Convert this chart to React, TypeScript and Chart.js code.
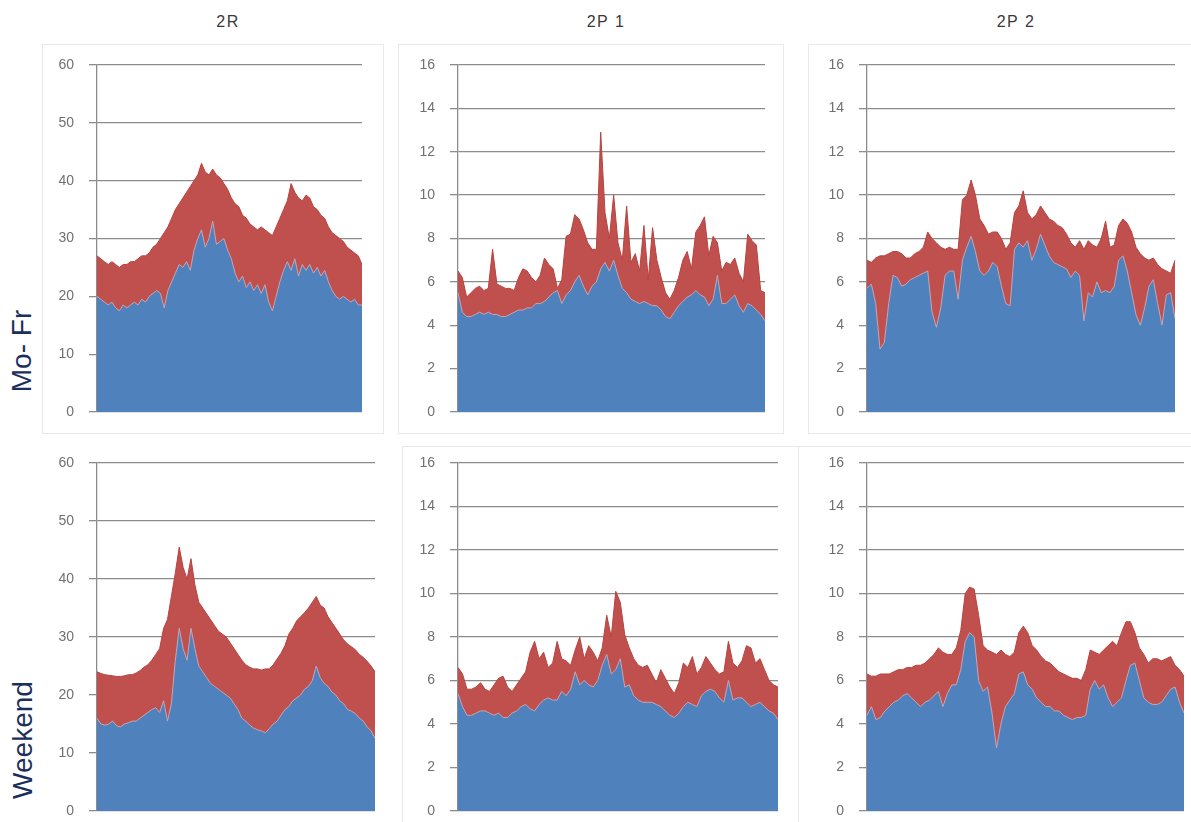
import React, { useEffect, useRef } from "react";
import { Chart, registerables } from "chart.js";

Chart.register(...registerables);

// 72 time slots over the day (categories)
const TIMES: string[] = [
  "00:00","00:20","00:40","01:00","01:20","01:40","02:00","02:20","02:40","03:00","03:20","03:40",
  "04:00","04:20","04:40","05:00","05:20","05:40","06:00","06:20","06:40","07:00","07:20","07:40",
  "08:00","08:20","08:40","09:00","09:20","09:40","10:00","10:20","10:40","11:00","11:20","11:40",
  "12:00","12:20","12:40","13:00","13:20","13:40","14:00","14:20","14:40","15:00","15:20","15:40",
  "16:00","16:20","16:40","17:00","17:20","17:40","18:00","18:20","18:40","19:00","19:20","19:40",
  "20:00","20:20","20:40","21:00","21:20","21:40","22:00","22:20","22:40","23:00","23:20","23:40",
];

const COLUMN_TITLES = ["2R", "2P 1", "2P 2"];
const ROW_TITLES = ["Mo- Fr", "Weekend"];

const TICKS_2R = [0, 10, 20, 30, 40, 50, 60];
const TICKS_2P = [0, 2, 4, 6, 8, 10, 12, 14, 16];

// ---- 2R, Mo-Fr ----
const r2WeekBlue = [
  20, 19.5, 19, 18.5, 19, 18, 17.5, 18.5, 18, 18.5, 19, 18.5,
  19.5, 19, 20, 20.5, 21, 20.5, 18, 21, 22.5, 24, 25.5, 25,
  26, 24.5, 28, 30, 31.5, 28.5, 30, 33, 29, 29.5, 30, 28,
  26.5, 24, 22.5, 23.5, 21.5, 22.5, 21, 22, 20.5, 22, 19, 17.5,
  20, 22.5, 24.5, 26, 24.5, 26.5, 23.5, 25.5, 24.5, 25.5, 24, 25,
  23.5, 24.5, 22.5, 21, 20, 19.5, 20, 19.5, 19, 19.5, 18.5, 18.5,
];
const r2WeekTotal = [
  27, 26.5, 26, 25.5, 26, 25.5, 25, 25.5, 25.5, 26, 26, 26.5,
  27, 27, 27.5, 28.5, 29, 30, 31, 32, 33.5, 35, 36, 37,
  38, 39, 40, 41, 43, 41.5, 41, 42, 41, 40.5, 39.5, 38.5,
  37, 36, 35.5, 34, 33.5, 32.5, 32, 31.5, 32, 31.5, 31, 30.5,
  32, 33.5, 35, 36.5, 39.5, 38, 37, 36.5, 37.5, 37, 35.5, 35,
  34, 33.5, 32, 31, 30.5, 30, 29.5, 28.5, 28, 27.5, 27, 25.5,
];

// ---- 2P 1, Mo-Fr ----
const p1WeekBlue = [
  5.5, 4.6, 4.4, 4.4, 4.5, 4.6, 4.5, 4.6, 4.5, 4.5, 4.4, 4.4,
  4.5, 4.6, 4.7, 4.7, 4.8, 4.8, 5.0, 5.0, 5.1, 5.3, 5.5, 5.6,
  5.0, 5.4, 5.6, 6.0, 6.3, 5.8, 5.4, 5.8, 6.0, 6.6, 6.9, 6.5,
  7.0, 6.3, 5.7, 5.5, 5.2, 5.1, 5.0, 5.1, 5.0, 4.9, 4.9, 4.7,
  4.4, 4.3, 4.6, 4.9, 5.1, 5.3, 5.4, 5.6, 5.4, 5.3, 4.9, 5.2,
  6.3, 5.0, 5.0, 5.2, 5.4, 4.9, 4.6, 5.0, 4.9, 4.7, 4.5, 4.2,
];
const p1WeekTotal = [
  6.5, 6.2, 5.3, 5.5, 5.7, 5.8, 5.6, 5.7, 7.5, 5.9, 5.8, 5.7,
  5.7, 5.6, 6.2, 6.6, 6.5, 6.2, 6.0, 6.3, 7.1, 6.8, 6.6, 5.7,
  6.1, 8.1, 8.2, 9.1, 8.9, 8.4, 7.8, 7.5, 7.5, 12.9, 9.2, 8.0,
  10.0, 7.8, 7.0, 9.5, 6.9, 7.3, 6.5, 8.6, 6.1, 8.5, 7.0, 6.2,
  5.5, 5.2, 5.6, 6.2, 7.0, 7.4, 6.6, 8.3, 8.6, 9.0, 7.2, 8.1,
  7.8, 6.5, 6.9, 6.8, 7.1, 6.4, 6.0, 8.2, 7.9, 7.7, 5.6, 5.5,
];

// ---- 2P 2, Mo-Fr ----
const p2WeekBlue = [
  5.7, 5.9, 5.0, 2.9, 3.2, 5.0, 6.3, 6.2, 5.8, 5.9, 6.1, 6.2,
  6.3, 6.4, 6.5, 4.6, 3.9, 4.8, 6.3, 6.5, 6.5, 5.2, 7.0, 7.6,
  8.1, 7.4, 6.5, 6.3, 6.5, 6.9, 6.7, 5.8, 5.0, 4.9, 7.5, 7.8,
  7.6, 7.9, 7.0, 7.5, 8.2, 7.7, 7.2, 6.9, 6.8, 6.7, 6.6, 6.2,
  6.5, 6.3, 4.2, 5.5, 5.3, 6.0, 5.5, 5.6, 5.5, 5.8, 7.0, 7.2,
  6.5, 5.5, 4.5, 4.0, 4.8, 5.8, 6.1, 5.0, 4.0, 5.4, 5.5, 4.3,
];
const p2WeekTotal = [
  7.0, 6.9, 7.1, 7.2, 7.2, 7.3, 7.4, 7.4, 7.3, 7.1, 7.1, 7.3,
  7.4, 7.6, 8.3, 8.0, 7.8, 7.6, 7.5, 7.6, 7.5, 7.5, 9.8, 10.0,
  10.7, 10.0, 8.9, 8.6, 8.2, 8.3, 8.3, 8.0, 7.5, 7.8, 9.2, 9.5,
  10.2, 9.2, 8.9, 9.1, 9.5, 9.2, 8.9, 8.8, 8.6, 8.5, 8.2, 7.8,
  7.6, 7.9, 7.5, 7.9, 7.7, 7.6, 8.0, 8.8, 7.6, 7.7, 8.6, 8.9,
  8.7, 8.3, 7.6, 7.3, 7.1, 7.0, 7.1, 6.8, 6.6, 6.5, 6.4, 7.0,
];

// ---- 2R, Weekend ----
const r2EndBlue = [
  16, 15, 14.8, 15, 15.5, 14.7, 14.5, 15, 15.2, 15.5, 15.5, 16,
  16.5, 17, 17.5, 17.8, 17, 19, 15.5, 18.5, 26, 31.5, 28, 26,
  31.5, 28, 25, 24, 23, 22, 21.5, 21, 20.5, 20, 19.5, 18.5,
  17.5, 16, 15.5, 14.8, 14.3, 14, 13.8, 13.5, 14.2, 15, 15.5, 16.5,
  17.5, 18, 19, 19.5, 20, 21, 21.5, 22.5, 25, 23, 22, 21.5,
  20.5, 20, 19, 18.5, 17.5, 17.2, 16.8, 16, 15.5, 14.5, 13.8, 12.5,
];
const r2EndTotal = [
  24, 23.7, 23.5, 23.4, 23.3, 23.2, 23.2, 23.3, 23.5, 23.5, 23.8, 24.2,
  24.8, 25.2, 26, 27, 28, 31.5, 33, 37, 41, 45.5, 42, 40,
  43.5, 39, 36, 35, 34, 33, 32, 31, 30.5, 30, 29, 28,
  27, 26, 25.2, 24.8, 24.5, 24.5, 24.3, 24.5, 24.5, 25.2, 26.2, 27.2,
  28.5, 30.5, 31.5, 32.8, 33.5, 34.2, 35, 36, 37, 35.5, 35, 33.5,
  32.5, 31.5, 30.5, 29.5, 28.8, 28.3, 27.8, 27, 26.5, 25.8, 25, 24,
];

// ---- 2P 1, Weekend ----
const p1EndBlue = [
  5.4, 4.8, 4.4, 4.4, 4.5, 4.6, 4.6, 4.5, 4.4, 4.5, 4.3, 4.3,
  4.5, 4.6, 4.8, 4.9, 4.7, 4.6, 4.9, 5.1, 5.2, 5.1, 5.1, 5.5,
  5.3, 5.6, 6.4, 5.8, 6.0, 5.8, 5.7, 6.0, 6.7, 7.2, 6.3, 6.5,
  7.0, 5.7, 5.8, 5.3, 5.1, 5.0, 5.0, 5.0, 4.9, 4.8, 4.6, 4.4,
  4.3, 4.5, 4.8, 5.0, 4.9, 4.8, 5.3, 5.5, 5.6, 5.5, 5.2, 5.0,
  6.0, 5.1, 5.2, 5.2, 5.0, 4.8, 4.9, 5.0, 4.8, 4.6, 4.5, 4.2,
];
const p1EndTotal = [
  6.6, 6.3, 5.6, 5.6, 5.7, 5.9, 5.6, 5.5, 5.8, 6.1, 6.2, 5.7,
  5.5, 5.8, 6.1, 6.4, 7.3, 7.8, 7.0, 7.3, 6.6, 6.8, 7.8, 7.0,
  6.9, 6.7, 7.4, 8.0, 7.0, 7.6, 7.3, 6.9, 7.5, 9.0, 8.0, 10.1,
  9.6, 8.1, 7.5, 7.0, 6.7, 6.6, 6.7, 6.3, 5.9, 6.5, 6.1, 5.7,
  5.4, 5.9, 6.8, 6.6, 7.1, 6.3, 6.6, 7.1, 6.8, 6.5, 6.3, 6.4,
  7.8, 6.8, 6.6, 6.9, 7.6, 7.5, 6.8, 7.0, 6.5, 6.0, 5.8, 5.7,
];

// ---- 2P 2, Weekend ----
const p2EndBlue = [
  4.4, 4.8, 4.2, 4.3, 4.6, 4.8, 5.0, 5.1, 5.3, 5.4, 5.2, 5.0,
  4.8, 5.0, 5.1, 5.3, 5.5, 4.8, 5.4, 5.8, 5.8, 6.5, 7.8, 8.2,
  8.0, 6.0, 5.5, 5.7, 4.5, 2.9, 4.0, 4.8, 5.1, 5.4, 6.3, 6.4,
  5.8, 5.6, 5.2, 5.0, 4.8, 4.8, 4.6, 4.6, 4.4, 4.3, 4.2, 4.3,
  4.3, 4.4, 5.6, 6.0, 5.6, 5.8, 5.2, 4.8, 5.0, 5.2, 6.0, 6.7,
  6.8, 6.0, 5.2, 5.0, 4.9, 4.9, 5.0, 5.3, 5.6, 5.7, 5.0, 4.5,
];
const p2EndTotal = [
  6.3, 6.2, 6.2, 6.3, 6.3, 6.3, 6.4, 6.5, 6.5, 6.6, 6.6, 6.7,
  6.7, 6.8, 7.0, 7.2, 7.5, 7.3, 7.2, 7.2, 7.5, 8.3, 10.0, 10.3,
  10.2, 9.0, 7.6, 7.4, 7.3, 7.2, 7.4, 7.2, 7.1, 7.3, 8.2, 8.5,
  8.2, 7.6, 7.4, 7.1, 6.9, 6.8, 6.6, 6.4, 6.3, 6.2, 6.1, 6.1,
  6.0, 6.5, 7.4, 7.3, 7.2, 7.4, 7.6, 7.8, 7.6, 8.2, 8.7, 8.7,
  8.2, 7.5, 7.2, 6.8, 7.0, 7.0, 6.9, 7.0, 7.1, 6.7, 6.5, 6.2,
];

const BLUE = "#4F81BD";
const RED = "#C0504D";
const GRID = "#8c8c8c";

type Area = { l: number; t: number; r: number; b: number };

const AX = 60;
const PT = 12;
const PB = 12;
const PR = 3;

function Panel({ blue, total, ticks, area }: { blue: number[]; total: number[]; ticks: number[]; area: Area }) {
  const ref = useRef<HTMLCanvasElement>(null);
  const w = area.r - area.l + AX + PR;
  const h = area.b - area.t + PT + PB;
  useEffect(() => {
    if (!ref.current) return;
    const max = ticks[ticks.length - 1];
    const step = ticks[1] - ticks[0];
    const chart = new Chart(ref.current, {
      type: "line",
      data: {
        labels: TIMES,
        datasets: [
          {
            label: "blue",
            data: blue,
            backgroundColor: BLUE,
            borderColor: "#c4a6b6",
            borderWidth: 1,
            fill: "origin",
            pointRadius: 0,
            tension: 0,
          },
          {
            label: "red",
            data: total,
            backgroundColor: RED,
            borderColor: "#b8433f",
            borderWidth: 1,
            fill: "origin",
            pointRadius: 0,
            tension: 0,
          },
        ],
      },
      options: {
        responsive: false,
        animation: false,
        events: [],
        layout: { padding: { top: PT, bottom: PB, left: 0, right: PR } },
        plugins: { legend: { display: false }, tooltip: { enabled: false } },
        scales: {
          x: { display: false },
          y: {
            min: 0,
            max,
            ticks: {
              stepSize: step,
              color: "#707070",
              font: { family: "'Liberation Sans', Arial, sans-serif", size: 14 },
              padding: 15,
            },
            grid: { color: GRID, lineWidth: 1.3, tickLength: 8, drawTicks: true },
            border: { display: true, color: GRID, width: 1.3 },
            afterFit: (s: any) => {
              s.width = AX;
              s.paddingTop = 0;
              s.paddingBottom = 0;
            },
          },
        },
      },
    });
    return () => chart.destroy();
  }, []);
  return (
    <canvas
      ref={ref}
      width={w}
      height={h}
      style={{ position: "absolute", left: area.l - AX, top: area.t - PT, width: w, height: h }}
    />
  );
}

const frame = (l: number, t: number, w: number, h: number, noRight = false): React.CSSProperties => ({
  position: "absolute",
  left: l,
  top: t,
  width: w,
  height: h,
  border: "1px solid #e8e8e8",
  borderRight: noRight ? "none" : "1px solid #e8e8e8",
  boxSizing: "border-box",
});

export default function App() {
  const titleStyle: React.CSSProperties = {
    position: "absolute",
    top: 13,
    transform: "translateX(-50%)",
    fontFamily: "'Liberation Sans', Arial, sans-serif",
    fontSize: 16,
    color: "#3a3a3a",
    letterSpacing: 1.5,
    whiteSpace: "nowrap",
  };
  const rowStyle = (cx: number, cy: number): React.CSSProperties => ({
    position: "absolute",
    left: cx,
    top: cy,
    transform: "translate(-50%, -50%) rotate(-90deg)",
    fontFamily: "'Liberation Sans', Arial, sans-serif",
    fontSize: 28,
    color: "#1c2f5c",
    whiteSpace: "nowrap",
  });
  return (
    <div
      style={{
        position: "absolute",
        left: 0,
        top: 0,
        width: 1191,
        height: 822,
        background: "#ffffff",
        overflow: "hidden",
      }}
    >
      <div style={frame(42, 44, 342, 390)} />
      <div style={frame(398, 44, 386, 390)} />
      <div style={frame(808, 44, 390, 390)} />
      <div style={frame(402, 446, 396, 390, true)} />
      <div style={frame(798, 446, 400, 390)} />

      <div style={{ ...titleStyle, left: 228 }}>{COLUMN_TITLES[0]}</div>
      <div style={{ ...titleStyle, left: 606 }}>{COLUMN_TITLES[1]}</div>
      <div style={{ ...titleStyle, left: 1016 }}>{COLUMN_TITLES[2]}</div>

      <div style={rowStyle(22, 351)}>{ROW_TITLES[0]}</div>
      <div style={rowStyle(23, 740)}>{ROW_TITLES[1]}</div>

      <Panel blue={r2WeekBlue} total={r2WeekTotal} ticks={TICKS_2R} area={{ l: 97, t: 65, r: 362, b: 412 }} />
      <Panel blue={p1WeekBlue} total={p1WeekTotal} ticks={TICKS_2P} area={{ l: 458, t: 65, r: 765, b: 412 }} />
      <Panel blue={p2WeekBlue} total={p2WeekTotal} ticks={TICKS_2P} area={{ l: 867, t: 65, r: 1175, b: 412 }} />
      <Panel blue={r2EndBlue} total={r2EndTotal} ticks={TICKS_2R} area={{ l: 97, t: 463, r: 375, b: 811 }} />
      <Panel blue={p1EndBlue} total={p1EndTotal} ticks={TICKS_2P} area={{ l: 458, t: 463, r: 778, b: 811 }} />
      <Panel blue={p2EndBlue} total={p2EndTotal} ticks={TICKS_2P} area={{ l: 867, t: 463, r: 1184, b: 811 }} />
    </div>
  );
}
